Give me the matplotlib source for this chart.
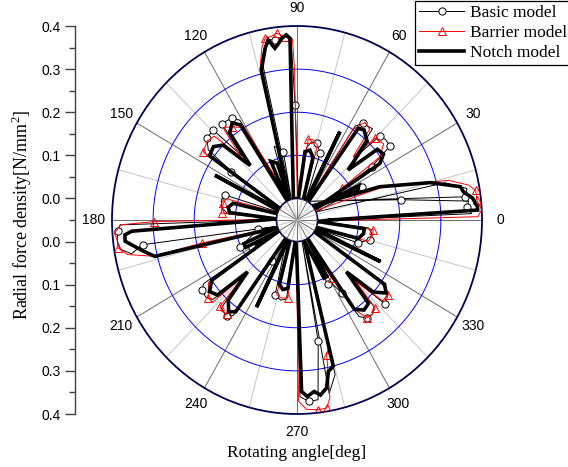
import numpy as np
import matplotlib.pyplot as plt

# rotating angle [deg] and radial force density [N/mm^2]
notch_deg = [0, 3, 4, 6.8, 9.2, 11, 14, 15, 21, 40, 24, 28, 31, 33, 36, 40, 43, 47, 52, 55, 57,
             61, 63, 64, 72, 75, 79, 83, 86,
             100, 93.5, 92.3, 93.5, 95, 96.5, 97.7, 99.5, 101, 104, 112, 110, 115, 118,
             122, 125, 129, 132, 136, 140, 145, 147, 151, 152.5, 154, 163, 166, 170, 174, 177,
             180, 183.7, 184.7, 186.7, 188.8, 191, 193.7, 200, 203, 207, 210,
             214, 218, 222, 225, 228, 232, 235, 237, 243, 244, 245.5, 250, 254, 258, 262, 265,
             268, 271.6, 273.5, 276, 278, 280.5, 282.2, 284.6, 290, 296, 299, 301,
             304, 308, 312, 315, 318, 322, 325, 327, 333, 334.6, 336, 340, 344, 349, 353, 356, 360]
notch_val = [0.03, 0.39, 0.39, 0.38, 0.36, 0.355, 0.30, 0.285, 0.165, 0.0, 0.11, 0.12, 0.0, 0.19, 0.21, 0.205, 0.12, 0.20, 0.215, 0.21, 0.0,
             0.0, 0.18, 0.0, 0.0, 0.10, 0.115, 0.11, 0.0,
             0.0, 0.15, 0.372, 0.38, 0.373, 0.36, 0.352, 0.373, 0.356, 0.308, 0.0, 0.09, 0.10, 0.0,
             0.21, 0.225, 0.21, 0.12, 0.20, 0.215, 0.21, 0.0, 0.0, 0.175, 0.0, 0.0, 0.11, 0.12, 0.115, 0.0,
             0.03, 0.353, 0.37, 0.371, 0.35, 0.33, 0.306, 0.0, 0.09, 0.09, 0.0,
             0.20, 0.22, 0.21, 0.12, 0.20, 0.22, 0.21, 0.0, 0.0, 0.175, 0.0, 0.0, 0.105, 0.115, 0.11, 0.0,
             0.0, 0.348, 0.36, 0.35, 0.36, 0.346, 0.31, 0.30, 0.0, 0.10, 0.10, 0.0,
             0.20, 0.215, 0.21, 0.12, 0.20, 0.225, 0.21, 0.0, 0.0, 0.175, 0.0, 0.0, 0.105, 0.115, 0.115, 0.0, 0.03]

basic_deg = [358, 2, 4.3, 6, 10.5, 60, 7.5, 10, 13.5, 22, 26, 30, 34.2, 37.2, 41, 44, 46, 49, 54.3, 57, 59,
             65, 70, 74.9, 79, 82, 86,
             91, 92, 94, 97.3, 100, 103, 106, 101.9, 108, 113, 121, 123.9, 129.3, 132, 134.3, 139.2, 143,
             144.8, 148, 158, 161.7, 166, 171, 175, 178,
             180, 181.5, 183.4, 186, 189, 191, 188.7, 197, 193, 204.5, 207, 209, 210, 211,
             213, 214.9, 219, 222, 225, 228, 232.6, 235, 237, 240, 253, 258, 262, 265,
             268, 271, 274, 277, 280.4, 284, 281, 284.5, 290, 296.7, 300, 302.7,
             304, 306.7, 310, 313, 315, 317.7, 320, 322, 325, 327, 337, 340.3, 345.6, 350, 354, 357, 360]
basic_val = [0.0, 0.375, 0.364, 0.37, 0.208, 0.0, 0.362, 0.37, 0.32, 0.0, 0.125, 0.0, 0.17, 0.234, 0.235, 0.23, 0.15, 0.23, 0.226, 0.21, 0.0,
             0.0, 0.115, 0.134, 0.135, 0.12, 0.0,
             0.217, 0.37, 0.38, 0.371, 0.375, 0.33, 0.0, 0.112, 0.13, 0.0, 0.22, 0.235, 0.239, 0.15, 0.242, 0.24, 0.22,
             0.145, 0.0, 0.0, 0.135, 0.14, 0.135, 0.12, 0.0,
             0.02, 0.38, 0.386, 0.39, 0.385, 0.36, 0.33, 0.0, 0.047, 0.1025, 0.10, 0.0, 0.077, 0.0,
             0.22, 0.233, 0.235, 0.225, 0.14, 0.225, 0.231, 0.22, 0.063, 0.0, 0.133, 0.14, 0.135, 0.0,
             0.0, 0.36, 0.372, 0.37, 0.236, 0.0, 0.36, 0.32, 0.0, 0.116, 0.12, 0.151,
             0.22, 0.234, 0.235, 0.225, 0.14, 0.2395, 0.235, 0.23, 0.20, 0.0, 0.0, 0.1085, 0.133, 0.135, 0.125, 0.0, 0.0]
basic_marked = [4.3, 10.5, 7.5, 26, 34.2, 37.2, 44, 54.3, 65, 70, 74.9, 91, 97.3, 101.9, 123.9, 129.3,
                134.3, 139.2, 144.8, 161.7, 183.4, 188.7, 193, 204.5, 210, 214.9, 232.6, 237, 253,
                274, 280.4, 296.7, 302.7, 306.7, 317.7, 340.3, 345.6]

barrier_deg = [357, 1, 3, 6.1, 9, 11, 14, 20, 26, 34, 36, 40, 45, 47, 50, 54, 57, 59, 70, 74, 78, 81.7, 85,
               89, 91, 91.5, 93.9, 96.5, 98.5, 100.4, 102, 104.5, 110, 121, 126.3, 130, 133, 136, 140, 145.3, 148,
               160, 164, 167.8, 172, 175, 178,
               180.6, 181.5, 184, 186, 188.5, 191, 193.5, 193, 198, 211, 214, 220, 223, 225, 226.9, 229, 232, 235, 237,
               250, 254, 258, 262.9, 265,
               268, 270.5, 273, 276.7, 279.4, 281, 283, 285, 290, 297, 302, 304, 306.7, 310, 313, 315, 318, 322, 325, 327,
               340, 344, 349, 353, 356, 360]
barrier_val = [0.0, 0.39, 0.40, 0.39, 0.39, 0.375, 0.33, 0.18, 0.0, 0.081, 0.20, 0.225, 0.218, 0.15, 0.225, 0.23, 0.20, 0.0, 0.0, 0.13, 0.14, 0.14, 0.0,
               0.0, 0.30, 0.37, 0.376, 0.386, 0.38, 0.379, 0.36, 0.31, 0.0, 0.20, 0.218, 0.23, 0.15, 0.23, 0.235, 0.2275, 0.0,
               0.0, 0.13, 0.133, 0.135, 0.134, 0.0,
               0.298, 0.38, 0.395, 0.39, 0.39, 0.37, 0.31, 0.188, 0.0, 0.0, 0.21, 0.232, 0.23, 0.13, 0.224, 0.23, 0.228, 0.20, 0.0,
               0.0, 0.13, 0.135, 0.1324, 0.0,
               0.0, 0.37, 0.39, 0.393, 0.392, 0.37, 0.271, 0.25, 0.0, 0.0, 0.109, 0.20, 0.233, 0.235, 0.229, 0.15, 0.23, 0.232, 0.21, 0.0,
               0.0, 0.13, 0.137, 0.137, 0.0, 0.0]
barrier_marked = [6.1, 9, 34, 45, 81.7, 93.9, 96.5, 100.4, 126.3, 145.3, 167.8, 175, 180.6, 188.5, 193,
                  220, 226.9, 232, 262.9, 276.7, 279.4, 283, 302, 306.7, 313, 322, 353]

theta_ticks = [0, 30, 60, 90, 120, 150, 180, 210, 240, 270, 300, 330]
left_ticks = [0.4, 0.3, 0.2, 0.1, 0.0, 0.0, 0.1, 0.2, 0.3, 0.4]

plt.rcParams['font.family'] = 'Liberation Sans'
plt.rcParams['mathtext.fontset'] = 'custom'
plt.rcParams['mathtext.rm'] = 'Liberation Serif'

W, H = 568, 467
rect = [112 / W, 53 / H, 370 / W, 388 / H]
fig = plt.figure(figsize=(W / 100, H / 100), dpi=100)

ax = fig.add_axes(rect, projection='polar', zorder=1)
ax.set_aspect('auto')
ax.grid(False)
ax.set_yticks([])

# grid: blue rings, grey spokes every 15 deg
ring = np.linspace(0, 2 * np.pi, 721)
for rr in [0.1, 0.2, 0.3]:
    ax.plot(ring, np.full_like(ring, rr), color='#0000ff', lw=0.7, zorder=1)
spoke_colors = ['#6a6a6a' if a % 30 == 0 else '#c6c6c6' for a in range(0, 360, 15)]
for a, c in zip(range(0, 360, 15), spoke_colors):
    ax.plot([np.deg2rad(a)] * 2, [0, 0.4], color=c, lw=0.7, zorder=0.9)


def marks(deg, marked):
    return [i for i, d in enumerate(deg) if d in marked]


l1, = ax.plot(np.deg2rad(basic_deg), basic_val, color='black', lw=0.7, marker='o', ms=5.2,
              mfc='white', mec='black', mew=0.7, markevery=marks(basic_deg, basic_marked),
              label='Basic model', zorder=3)
l2, = ax.plot(np.deg2rad(barrier_deg), barrier_val, color='red', lw=0.7, marker='^', ms=6,
              mfc='none', mec='red', mew=0.7, markevery=marks(barrier_deg, barrier_marked),
              label='Barrier model', zorder=3)
l3, = ax.plot(np.deg2rad(notch_deg), notch_val, color='black', lw=2.6, solid_joinstyle='miter',
              label='Notch model', zorder=4)

ax.set_rlim(0, 0.4)
ax.set_rorigin(-0.05)
ax.set_xticks(np.deg2rad(theta_ticks))
ax.set_xticklabels([str(t) for t in theta_ticks])
ax.tick_params(axis='x', pad=6, labelsize=10, length=0)
ax.spines['polar'].set_color('#000050')
ax.spines['polar'].set_linewidth(1.3)
ax.spines['inner'].set_color('#000050')
ax.spines['inner'].set_linewidth(1.2)

# spokes continue through the centre hole
hax = fig.add_axes(rect, zorder=2)
hax.set_xlim(-0.45, 0.45)
hax.set_ylim(-0.45, 0.45)
hax.axis('off')
for a, c in zip(range(0, 360, 15), spoke_colors):
    t = np.deg2rad(a)
    hax.plot([0, 0.048 * np.cos(t)], [0, 0.048 * np.sin(t)], color=c, lw=0.7)

# left radial scale
lax = fig.add_axes([75 / W, 53 / H, 0.0001, 388 / H])
lax.set_ylim(-0.45, 0.45)
for s in ['top', 'right', 'bottom']:
    lax.spines[s].set_visible(False)
lax.spines['left'].set_color('#404040')
lax.spines['left'].set_linewidth(1.0)
lax.set_xticks([])
lax.set_yticks(np.linspace(0.45, -0.45, 10))
lax.set_yticklabels([f'{v:.1f}' for v in left_ticks])
lax.set_yticks(np.linspace(0.4, -0.4, 9), minor=True)
lax.tick_params(axis='y', which='major', length=7, width=1.0, color='#404040', labelsize=10, pad=3)
lax.tick_params(axis='y', which='minor', length=4, width=1.0, color='#404040')
lax.patch.set_visible(False)

fig.text(22 / W, 1 - 215 / H, 'Radial force density[N/mm$^\\mathrm{2}$]', rotation=90,
         ha='center', va='center', fontsize=13, family='Liberation Serif')
fig.text(297 / W, 1 - 453 / H, 'Rotating angle[deg]', ha='center', va='center',
         fontsize=12.5, family='Liberation Serif')

leg = fig.legend([l1, l2, l3], ['Basic model', 'Barrier model', 'Notch model'], loc='lower left',
                 bbox_to_anchor=(415 / W, 1 - 65 / H), borderaxespad=0, fancybox=False,
                 edgecolor='black', framealpha=1, prop={'family': 'Liberation Serif', 'size': 12.5},
                 handlelength=2.6, handletextpad=0.3, labelspacing=0.2, borderpad=0.25)
leg.get_frame().set_linewidth(0.9)
leg.set_zorder(5)

fig.savefig('out.png', dpi=100)
